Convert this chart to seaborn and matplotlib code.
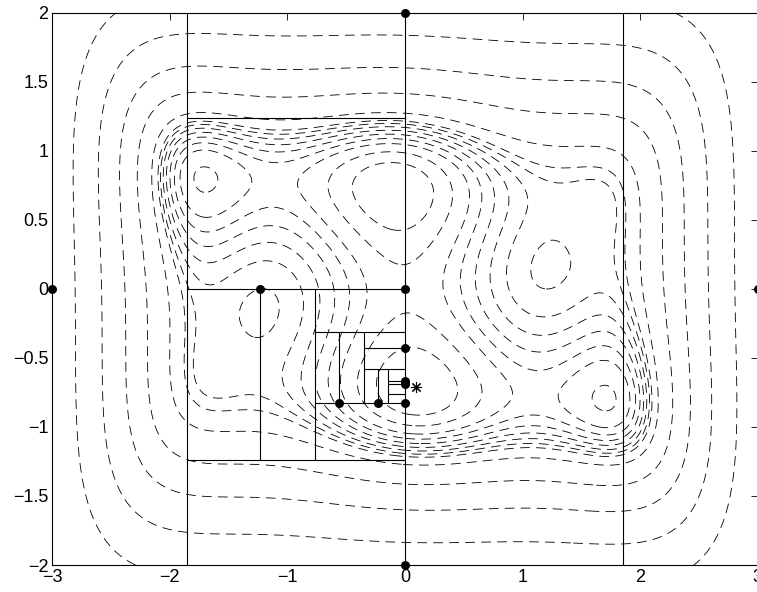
import numpy as np
import pandas as pd
import matplotlib
matplotlib.use("Agg")
import matplotlib.pyplot as plt
import seaborn as sns

# ---------------- data ----------------
# contour levels of the six-hump camel function
fine_levels = [-0.6, -0.12, 0.4, 0.8, 1.2, 1.6, 2.0, 2.4, 2.8]
coarse_levels = [4, 8, 16, 32, 64]

# box edges drawn by the search (x0, y0, x1, y1)
seg_x0 = [-1.854, 0.0, 1.854, -1.854, -1.854, -1.854, -1.236, -0.765, -0.765, -0.765, -0.563, -0.347, -0.347, -0.347, -0.233, -0.142, -0.142, -0.142, -0.142]
seg_y0 = [-2.0, -2.0, -2.0, 1.236, 0.0, -1.236, -1.236, -1.236, -0.315, -0.827, -0.827, -0.827, -0.431, -0.582, -0.827, -0.827, -0.669, -0.686, -0.764]
seg_x1 = [-1.854, 0.0, 1.854, 0.0, 0.0, 0.0, -1.236, -0.765, 0.0, 0.0, -0.563, -0.347, 0.0, 0.0, -0.233, -0.142, 0.0, 0.0, 0.0]
seg_y1 = [2.0, 2.0, 2.0, 1.236, 0.0, -1.236, 0.0, 0.0, -0.315, -0.827, -0.315, -0.315, -0.431, -0.582, -0.582, -0.582, -0.669, -0.686, -0.764]

# sampled points
dot_x = [-3.0, 0.0, 0.0, 0.0, 3.0, -1.236, 0.0, -0.563, -0.227, 0.0, 0.0, 0.0]
dot_y = [0.0, 2.0, 0.0, -2.0, 0.0, 0.0, -0.431, -0.827, -0.827, -0.827, -0.665, -0.69]

# global minimiser
star_x = [0.0898]
star_y = [-0.7126]

x_ticks = [-3, -2, -1, 0, 1, 2, 3]
x_labels = ["\u22123", "\u22122", "\u22121", "0", "1", "2", "3"]
y_ticks = [-2, -1.5, -1, -0.5, 0, 0.5, 1, 1.5, 2]
y_labels = ["\u22122", "\u22121.5", "\u22121", "\u22120.5", "0", "0.5", "1", "1.5", "2"]


def camel(x, y):
    return (4 - 2.1 * x**2 + x**4 / 3) * x**2 + x * y + (-4 + 4 * y**2) * y**2


# ---------------- drawing ----------------
sns.set_style("white")
plt.rcParams["font.family"] = ["Liberation Sans", "DejaVu Sans"]
plt.rcParams["lines.scale_dashes"] = False

fig = plt.figure(figsize=(7.57, 5.92), dpi=100)
ax = fig.add_axes([52.3 / 757, (592 - 565) / 592, 705.4 / 757, 552.3 / 592])

gx = np.linspace(-3, 3, 601)
gy = np.linspace(-2, 2, 401)
X, Y = np.meshgrid(gx, gy)
Z = camel(X, Y)
ax.contour(X, Y, Z, levels=fine_levels + coarse_levels, colors="black",
           linewidths=0.6, linestyles=[(0, (7, 4.5))])

rows = []
for i, (a, b, c, d) in enumerate(zip(seg_x0, seg_y0, seg_x1, seg_y1)):
    rows.append({"x": a, "y": b, "seg": i})
    rows.append({"x": c, "y": d, "seg": i})
seg_df = pd.DataFrame(rows)
sns.lineplot(data=seg_df, x="x", y="y", units="seg", estimator=None, sort=False,
             color="black", linewidth=0.8, ax=ax, legend=False)

sns.scatterplot(x=dot_x, y=dot_y, s=42, color="black", edgecolor="black",
                linewidth=0, ax=ax, clip_on=False, zorder=5)
ax.plot(star_x, star_y, linestyle="none", marker=(8, 2, 0), markersize=8,
        markeredgewidth=0.8, color="black", zorder=6)

ax.set_xlim(-3, 3)
ax.set_ylim(-2, 2)
ax.set_xticks(x_ticks)
ax.set_xticklabels(x_labels)
ax.set_yticks(y_ticks)
ax.set_yticklabels(y_labels)
ax.set_xlabel("")
ax.set_ylabel("")
ax.tick_params(direction="in", top=True, right=True, length=5, width=0.6,
               labelsize=13, colors="black", pad=3)
for sp in ax.spines.values():
    sp.set_visible(True)
    sp.set_color("black")
    sp.set_linewidth(0.8)

fig.savefig("out.png", dpi=100)
